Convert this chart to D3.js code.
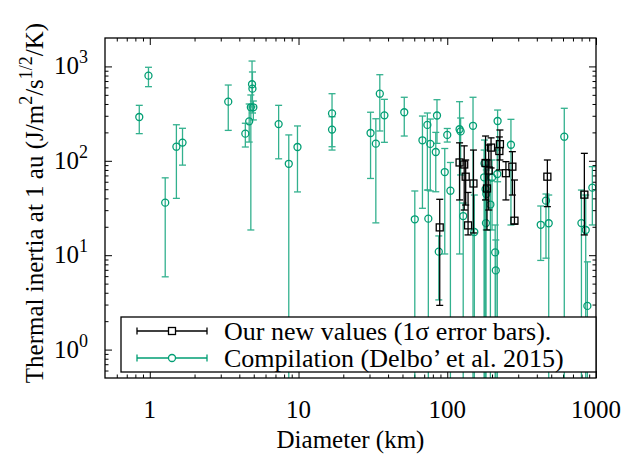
<!DOCTYPE html>
<meta charset="utf-8">
<html>
<style>
  body { margin: 0; background: #fff; }
  svg text { font-family: "Liberation Serif", "DejaVu Serif", serif; }
</style>
<body>
<div id="my_dataviz"></div>
<script src="https://d3js.org/d3.v7.min.js"></script>
<script>

// compilation (Delbo' et al. 2015): diameter (km), thermal inertia, lower and upper bounds
var greenD  = [0.85, 0.98, 1.27, 1.51, 1.66, 3.37, 4.39, 4.66, 4.87, 4.9, 4.78, 4.97, 7.35, 8.6, 9.84,
               16.8, 16.8, 30.5, 33.1, 35.2, 37.8, 51.4, 60.5, 68.1, 73.5, 76.9, 74.6, 83.7, 85.3, 96.2,
               100, 105, 87.7, 121, 123, 128, 149, 152, 178, 177, 181, 183, 182, 195, 200,
               210, 212, 218, 217, 268, 425, 461, 481, 612, 798, 853, 875, 945]
var greenTI = [291, 798, 36, 141, 156, 423, 194, 262, 647, 581, 369, 369, 245, 93, 140,
               318, 214, 197, 152, 514, 303, 327, 24, 165, 240, 151, 24.4, 124, 302, 76,
               188, 48.2, 10.9, 216, 205, 26, 235, 17.6, 93.7, 66.9, 49.9, 44.5, 21.9, 34.4, 66.5,
               10.7, 6.9, 264, 72.5, 148, 21, 37.8, 21.8, 180, 21.9, 18.5, 2.9, 51.9]
var greenLo = [194, 610, 5.9, 40, 90, 210, 140, 158, 372, 321, 18.5, 271, 105, 0.1, 46.8,
               141, 130, 65, 22, 207, 157, 183, 0.1, 31.4, 49, 48, 0.1, 47, 153, 10.3,
               158, 0.1, 3.36, 10.3, 70.8, 0.1, 0.1, 0.1, 0.1, 0.1, 0.1, 18.5, 0.1, 0.1, 18.5,
               0.1, 0.1, 60, 0.1, 20.9, 8.8, 9.3, 0.1, 0.1, 0.1, 0.1, 0.1, 20.9]
var greenHi = [387, 979, 66, 241, 221, 635, 250, 400, 1140, 873, 498, 430, 387, 188, 234,
               514, 293, 327, 279, 817, 448, 471, 47.9, 298, 321, 277, 49, 200, 444, 135,
               220, 96, 16, 423, 284, 35.7, 471, 43.4, 166, 130, 90, 80, 38.5, 62.6, 102,
               20.9, 14.5, 345, 130, 275, 33.2, 44.5, 43.4, 360, 49, 43.4, 8.5, 86.7]

// our new values (1 sigma error bars)
var blackD  = [89, 121, 130, 133, 150, 138, 181, 185, 190, 197, 226, 224, 248, 274, 283, 471, 835]
var blackTI = [19.7, 96, 91.4, 67.9, 57.5, 20.7, 94.8, 50.9, 78.9, 138, 150, 127, 73.9, 86.7, 23.2, 67.9, 43.8]
var blackLo = [2.94, 38.5, 30.1, 34, 17.2, 16.4, 38.5, 18.5, 30.1, 84, 102, 80, 38.5, 43.4, 21.4, 32.7, 16.4]
var blackHi = [39.1, 155, 144, 102, 130, 46.2, 183, 102, 147, 175, 212, 179, 97.9, 125, 62.6, 102, 120]

var majorTicks = [1, 10, 100, 1000]
var xTickLabels = ["1", "10", "100", "1000"]
var yTickExp = ["0", "1", "2", "3"]
var legendLabels = ["Our new values (1\u03c3 error bars).", "Compilation (Delbo\u2019 et al. 2015)"]

var green = "#009e73"

const margin = {top: 38, right: 27, bottom: 79, left: 105},
      width = 623 - margin.left - margin.right,
      height = 457 - margin.top - margin.bottom;

const svg = d3.select("#my_dataviz")
  .append("svg")
  .attr("width", 623)
  .attr("height", 457)
  .append("g")
  .attr("transform", `translate(${margin.left}, ${margin.top})`);

var x = d3.scaleLog().domain([0.5, 1000]).range([0, width]);
var y = d3.scaleLog().domain([0.5, 2000]).range([height, 0]);

// minor ticks 2..9 per decade
function minors(lo, hi) {
  var out = []
  for (var p = -1; p <= 3; p++) {
    for (var m = 2; m <= 9; m++) {
      var v = m * Math.pow(10, p)
      if (v > lo && v < hi) out.push(v)
    }
  }
  return out
}

svg.append("clipPath").attr("id", "clip")
  .append("rect").attr("width", width).attr("height", height)

// ticks on all four sides, pointing inwards
function tickAxis(axis, scale, values, size, tr) {
  svg.append("g")
    .attr("transform", tr)
    .call(axis(scale).tickValues(values).tickSize(size).tickFormat(""))
    .call(g => g.select(".domain").remove())
    .selectAll("line").attr("stroke", "#000").attr("stroke-width", 1)
}
tickAxis(d3.axisBottom, x, majorTicks, -7, `translate(0,${height})`)
tickAxis(d3.axisBottom, x, minors(0.5, 1000), -3.5, `translate(0,${height})`)
tickAxis(d3.axisTop, x, majorTicks, -7, "translate(0,0)")
tickAxis(d3.axisTop, x, minors(0.5, 1000), -3.5, "translate(0,0)")
tickAxis(d3.axisLeft, y, majorTicks, -7, "translate(0,0)")
tickAxis(d3.axisLeft, y, minors(0.5, 2000), -3.5, "translate(0,0)")
tickAxis(d3.axisRight, y, majorTicks, -7, `translate(${width},0)`)
tickAxis(d3.axisRight, y, minors(0.5, 2000), -3.5, `translate(${width},0)`)

// x tick labels
svg.selectAll("xlab")
  .data(majorTicks)
  .enter()
  .append("text")
    .attr("x", d => x(d))
    .attr("y", height + 40)
    .attr("text-anchor", "middle")
    .style("font-size", "25px")
    .text((d, i) => xTickLabels[i])

// y tick labels 10^n
var ylab = svg.selectAll("ylab")
  .data(majorTicks)
  .enter()
  .append("text")
    .attr("x", -17)
    .attr("y", d => y(d) + 8)
    .attr("text-anchor", "end")
    .style("font-size", "25px")
ylab.append("tspan").text("10")
ylab.append("tspan").attr("dy", -11).style("font-size", "18px").text((d, i) => yTickExp[i])

// error bars + points
var plot = svg.append("g").attr("clip-path", "url(#clip)")

function drawSeries(D, V, lo, hi, col, op) {
  var idx = d3.range(D.length)
  var g = plot.append("g").attr("stroke", col).attr("stroke-width", 1.3).attr("opacity", op)
  g.selectAll("vbar").data(idx).enter().append("line")
    .attr("x1", i => x(D[i])).attr("x2", i => x(D[i]))
    .attr("y1", i => y(lo[i])).attr("y2", i => y(hi[i]))
  g.selectAll("capl").data(idx).enter().append("line")
    .attr("x1", i => x(D[i]) - 3.5).attr("x2", i => x(D[i]) + 3.5)
    .attr("y1", i => y(lo[i])).attr("y2", i => y(lo[i]))
  g.selectAll("caph").data(idx).enter().append("line")
    .attr("x1", i => x(D[i]) - 3.5).attr("x2", i => x(D[i]) + 3.5)
    .attr("y1", i => y(hi[i])).attr("y2", i => y(hi[i]))
  return idx
}

var gi = drawSeries(greenD, greenTI, greenLo, greenHi, green, 0.8)
plot.append("g").selectAll("circle").data(gi).enter().append("circle")
  .attr("cx", i => x(greenD[i])).attr("cy", i => y(greenTI[i]))
  .attr("r", 3.5).attr("fill", "none").attr("stroke", green).attr("stroke-width", 1.3)

var bi = drawSeries(blackD, blackTI, blackLo, blackHi, "#000", 1)
plot.append("g").selectAll("rect").data(bi).enter().append("rect")
  .attr("x", i => x(blackD[i]) - 3.5).attr("y", i => y(blackTI[i]) - 3.5)
  .attr("width", 7).attr("height", 7)
  .attr("fill", "none").attr("stroke", "#000").attr("stroke-width", 1.3)

// frame
svg.append("rect").attr("width", width).attr("height", height)
  .attr("fill", "none").attr("stroke", "#000").attr("stroke-width", 1.3)

// legend
var leg = svg.append("g").attr("transform", "translate(16,279)")
leg.append("rect").attr("width", 475).attr("height", 55)
  .attr("fill", "#fff").attr("stroke", "#000").attr("stroke-width", 1.3)
var legCols = ["#000", green]
legendLabels.forEach(function(t, i) {
  var yy = 14 + i * 27
  leg.append("line").attr("x1", 16).attr("x2", 86).attr("y1", yy).attr("y2", yy)
    .attr("stroke", legCols[i]).attr("stroke-width", 1.3)
  leg.append("line").attr("x1", 16).attr("x2", 16).attr("y1", yy - 3.5).attr("y2", yy + 3.5)
    .attr("stroke", legCols[i]).attr("stroke-width", 1.3)
  leg.append("line").attr("x1", 86).attr("x2", 86).attr("y1", yy - 3.5).attr("y2", yy + 3.5)
    .attr("stroke", legCols[i]).attr("stroke-width", 1.3)
  if (i == 0) {
    leg.append("rect").attr("x", 47.5).attr("y", yy - 3.5).attr("width", 7).attr("height", 7)
      .attr("fill", "#fff").attr("stroke", "#000").attr("stroke-width", 1.3)
  } else {
    leg.append("circle").attr("cx", 51).attr("cy", yy).attr("r", 3.5)
      .attr("fill", "#fff").attr("stroke", green).attr("stroke-width", 1.3)
  }
  leg.append("text").attr("x", 103).attr("y", yy + 9)
    .style("font-size", "26px").text(t)
})

// axis labels
svg.append("text")
  .attr("x", width / 2)
  .attr("y", height + 70)
  .attr("text-anchor", "middle")
  .style("font-size", "25px")
  .text("Diameter (km)")

var yl = svg.append("text")
  .attr("transform", "rotate(-90)")
  .attr("x", -height / 2 + 5)
  .attr("y", -62)
  .attr("text-anchor", "middle")
  .style("font-size", "25px")
yl.append("tspan").text("Thermal inertia at 1 au (J/m")
yl.append("tspan").attr("dy", -11).style("font-size", "18px").text("2")
yl.append("tspan").attr("dy", 11).text("/s")
yl.append("tspan").attr("dy", -11).style("font-size", "18px").text("1/2")
yl.append("tspan").attr("dy", 11).text("/K)")

</script>
</body>
</html>
